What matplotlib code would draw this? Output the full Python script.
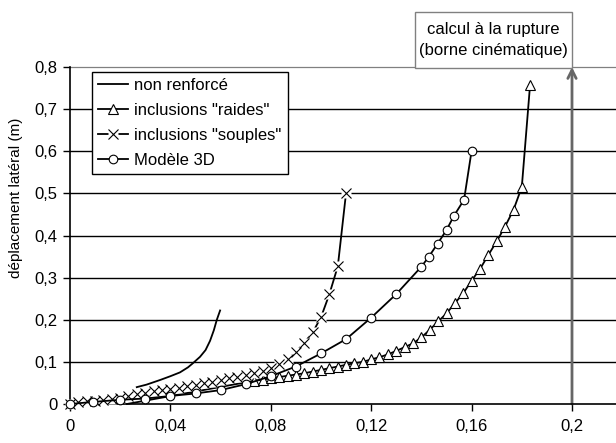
# Lateral displacement curves - reinforced vs not reinforced

import matplotlib.pyplot as plt
from matplotlib.patches import Rectangle

plt.rcParams['font.family'] = ['Liberation Sans', 'DejaVu Sans']

# Data
# non renforcé
x_nr = [0.0266, 0.0305, 0.0359, 0.040, 0.0438, 0.047, 0.049, 0.0518, 0.054,
        0.0558, 0.0573, 0.0585, 0.0598]
y_nr = [0.040, 0.046, 0.057, 0.066, 0.075, 0.087, 0.097, 0.112, 0.128,
        0.150, 0.175, 0.200, 0.222]

# inclusions "raides"
x_raides = [0.0227, 0.0733, 0.0767, 0.08, 0.0833, 0.0867, 0.09, 0.0933, 0.0967,
            0.1, 0.1033, 0.1067, 0.11, 0.1133, 0.1167, 0.12, 0.1233, 0.1267,
            0.13, 0.1333, 0.1367, 0.14, 0.1433, 0.1467, 0.15, 0.1533, 0.1567,
            0.16, 0.1633, 0.1667, 0.17, 0.1733, 0.1767, 0.18, 0.1833]
y_raides = [0.0, 0.055, 0.058, 0.061, 0.064, 0.067, 0.070, 0.073, 0.077,
            0.081, 0.085, 0.089, 0.093, 0.097, 0.100, 0.106, 0.111, 0.118,
            0.126, 0.135, 0.144, 0.158, 0.176, 0.196, 0.215, 0.239, 0.263,
            0.293, 0.320, 0.354, 0.386, 0.421, 0.461, 0.515, 0.758]

# inclusions "souples"
x_souples = [0.0, 0.0033, 0.0067, 0.01, 0.0133, 0.0167, 0.02, 0.0233, 0.0267,
             0.03, 0.0333, 0.0367, 0.04, 0.0433, 0.0467, 0.05, 0.0533, 0.0567,
             0.06, 0.0633, 0.0667, 0.07, 0.0733, 0.0767, 0.08, 0.0833, 0.0867,
             0.09, 0.0933, 0.0967, 0.1, 0.1033, 0.1067, 0.11]
y_souples = [0.0, 0.004, 0.006, 0.008, 0.010, 0.013, 0.015, 0.018, 0.023,
             0.027, 0.030, 0.033, 0.036, 0.039, 0.042, 0.045, 0.049, 0.053,
             0.057, 0.061, 0.065, 0.069, 0.074, 0.079, 0.085, 0.094, 0.107,
             0.124, 0.145, 0.170, 0.206, 0.260, 0.327, 0.502]

# Modèle 3D
x_3d = [0.0, 0.0093, 0.02, 0.03, 0.04, 0.05, 0.06, 0.07, 0.08, 0.09, 0.1,
        0.11, 0.12, 0.13, 0.14, 0.143, 0.1465, 0.15, 0.153, 0.157, 0.16]
y_3d = [0.0, 0.005, 0.010, 0.013, 0.019, 0.025, 0.033, 0.047, 0.066, 0.089,
        0.120, 0.154, 0.205, 0.261, 0.326, 0.350, 0.381, 0.413, 0.447, 0.485,
        0.601]

x_ticks = [0, 0.04, 0.08, 0.12, 0.16, 0.2]
x_labels = ["0", "0,04", "0,08", "0,12", "0,16", "0,2"]
y_ticks = [0, 0.1, 0.2, 0.3, 0.4, 0.5, 0.6, 0.7, 0.8]
y_labels = ["0", "0,1", "0,2", "0,3", "0,4", "0,5", "0,6", "0,7", "0,8"]

x_rupture = 0.2

#-------------------------
fig = plt.figure(figsize=(6.16, 4.43), dpi=100)
ax = fig.add_axes([70 / 616, 39 / 443, 546 / 616, 337 / 443])

# grid
for yv in y_ticks[1:-1]:
    ax.axhline(yv, color='black', lw=1.0, zorder=1)
ax.axhline(y_ticks[-1], color='#808080', lw=0.9, zorder=1, clip_on=False)

lw = 1.3
l_nr, = ax.plot(x_nr, y_nr, color='black', lw=lw, zorder=3)

l_r, = ax.plot(x_raides, y_raides, color='black', lw=lw, marker='^', ms=7,
               mfc='white', mec='black', mew=0.8, markevery=range(1, len(x_raides)),
               zorder=4, clip_on=False)

l_s, = ax.plot(x_souples, y_souples, color='black', lw=lw, marker='s', ms=6.5,
               mfc='white', mec='none', zorder=5, clip_on=False)
l_sx, = ax.plot(x_souples, y_souples, ls='none', marker='x', ms=6.5,
                mec='black', mew=0.8, zorder=6, clip_on=False)

l_3d, = ax.plot(x_3d, y_3d, color='black', lw=lw, marker='o', ms=6.2,
                mfc='white', mec='black', mew=0.8, zorder=7, clip_on=False)

# rupture arrow
ax.annotate('', xy=(x_rupture, 0.8), xytext=(x_rupture, 0),
            arrowprops=dict(arrowstyle='->,head_length=0.6,head_width=0.3',
                            color='#666666', lw=2, shrinkA=0, shrinkB=0),
            zorder=2, annotation_clip=False)

ax.set_xlim(0, 546 / 2510)
ax.set_ylim(0, 0.8)
ax.set_xticks(x_ticks)
ax.set_xticklabels(x_labels)
ax.set_yticks(y_ticks)
ax.set_yticklabels(y_labels)
ax.tick_params(axis='both', labelsize=12, length=5, width=1, color='black')
ax.tick_params(axis='x', pad=6)
ax.tick_params(axis='y', pad=4)

for s in ['top', 'right']:
    ax.spines[s].set_visible(False)
ax.spines['left'].set_linewidth(1.2)
ax.spines['bottom'].set_linewidth(1.2)

ax.set_ylabel("déplacement latéral (m)", fontsize=11,
              family=['Liberation Sans Narrow', 'Liberation Sans'])
ax.yaxis.set_label_coords(-0.086, 0.613)

leg = ax.legend([l_nr, l_r, (l_s, l_sx), l_3d],
                ["non renforcé", 'inclusions "raides"', 'inclusions "souples"',
                 "Modèle 3D"],
                loc='upper left', bbox_to_anchor=(92 / 616, 1 - 72 / 443),
                bbox_transform=fig.transFigure, borderaxespad=0,
                fontsize=12, handlelength=1.8, handletextpad=0.4,
                labelspacing=0.6, borderpad=0.35, fancybox=False,
                edgecolor='black', framealpha=1)
leg.get_frame().set_linewidth(1.0)
leg.set_zorder(10)

# box "calcul à la rupture"
fig.patches.append(Rectangle((415 / 616, 1 - 68 / 443), 157 / 616, 56 / 443,
                             transform=fig.transFigure, facecolor='white',
                             edgecolor='#808080', lw=1.0, zorder=5))
fig.text(493.5 / 616, 1 - 40 / 443, "calcul à la rupture\n(borne cinématique)",
         ha='center', va='center', fontsize=12, linespacing=1.45, zorder=6)

plt.savefig("out.png", dpi=100)
